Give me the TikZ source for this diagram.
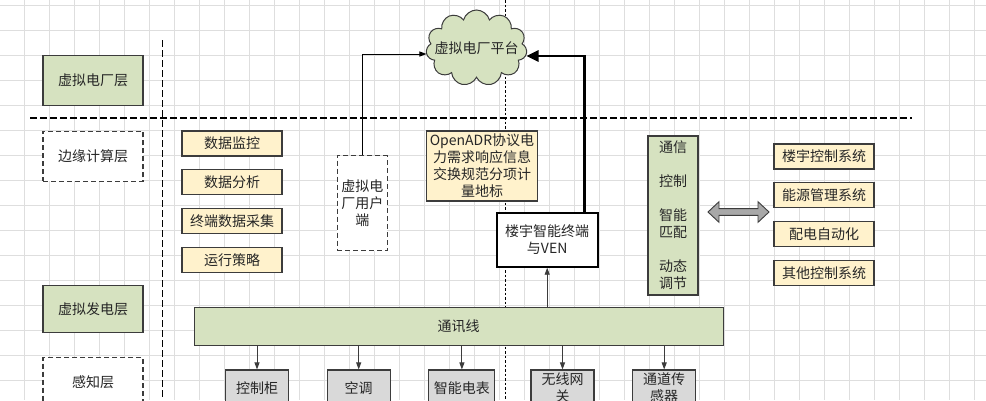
\documentclass[tikz,border=0pt]{standalone}
\usepackage{fontspec}
\usetikzlibrary{positioning,shapes.symbols,arrows.meta}
\newfontfamily\cjk{Noto Sans CJK SC}
\definecolor{layergreen}{RGB}{214,226,192}
\definecolor{notebg}{RGB}{255,242,204}
\definecolor{devgray}{RGB}{217,217,217}
\definecolor{swapgray}{RGB}{168,168,168}
\definecolor{edgegray}{RGB}{60,60,60}
\tikzset{
  txt/.style={font=\cjk\fontsize{14}{17}\selectfont,text=black!85},
  box/.style={txt,draw=edgegray,line width=1.1pt,align=center,inner sep=0pt},
  layer/.style={box,fill=layergreen,minimum width=100pt,minimum height=50pt},
  ghost/.style={box,fill=white,dash pattern=on 5pt off 3pt},
  note/.style={box,fill=notebg,minimum width=100pt,minimum height=25pt},
  device/.style={box,fill=devgray,minimum width=63pt,minimum height=36pt},
  gridline/.style={draw=black!13,line width=0.8pt},
  sep/.style={draw=black,line width=1.1pt,dash pattern=on 6.5pt off 3.5pt},
  link/.style={draw=edgegray,line width=0.9pt,-{Triangle[length=7pt,width=5pt]}},
  bold/.style={draw=black,line width=2.6pt,-{Triangle[length=12pt,width=11pt]}}
}

\begin{document}
\begin{tikzpicture}[x=1pt,y=-1pt]
  \fill[white] (0,0) rectangle (986,400);
  \useasboundingbox (0,0) rectangle (986,400);
  \clip (0,0) rectangle (986,400);
  \foreach \gx in {-1,24,...,974} \draw[gridline] (\gx,0) -- (\gx,400);
  \foreach \gy in {5,30,...,380} \draw[gridline] (0,\gy) -- (986,\gy);
  \draw[sep] (162.7,40) -- (162.7,400);
  \draw[sep] (30,118) -- (912,118);
  \draw[line width=0.7pt,dash pattern=on 2.5pt off 2pt] (505,0) -- (505,400);

  \node[layer] (vpp) at (93,80.7) {虚拟电厂层};
  \node[layer,ghost] (edgel) at (93,156.3) {边缘计算层};
  \node[layer,minimum height=47pt] (vgen) at (93,309.3) {虚拟发电层};
  \node[layer,ghost] (sense) at (93,382.5) {感知层};

  \node[note] (mon) at (232,143.5) {数据监控};
  \node[note] (ana) [below=12.7pt of mon] {数据分析};
  \node[note] (acq) [below=12.7pt of ana] {终端数据采集};
  \node[note] (ops) [below=12.7pt of acq] {运行策略};

  \node[note] (bcs) at (824,156.5) {楼宇控制系统};
  \node[note] (ems) [below=12.8pt of bcs] {能源管理系统};
  \node[note] (das) [below=12.8pt of ems] {配电自动化};
  \node[note] (ocs) [below=12.8pt of das] {其他控制系统};

  \node[cloud,cloud puffs=11,draw=edgegray,fill=layergreen,line width=1pt,
    minimum width=101pt,minimum height=76pt,inner sep=0pt,
    label={[txt]center:虚拟电厂平台}] (cloud) at (476.5,48) {};
  \node[ghost,minimum width=50pt,minimum height=95pt] (user) at (362.3,203.2) {虚拟电\\厂用户\\端};
  \node[note,minimum width=110.6pt,minimum height=70pt] (adr) at (482,166)
    {OpenADR协议电\\力需求响应信息\\交换规范分项计\\量地标};
  \node[box,draw=black,line width=2pt,fill=white,minimum width=101pt,minimum height=53.4pt]
    (ven) at (547.2,240) {楼宇智能终端\\与VEN};
  \node[layer,minimum width=50pt,minimum height=159pt] (ctl) at (673,215.5)
    {通信\\[17pt]控制\\[17pt]智能\\匹配\\[17pt]动态\\调节};
  \node[layer,minimum width=529pt,minimum height=38.4pt] (bus) at (458.7,326.5) {通讯线};

  \node[device] (cab) at (257,388) {控制柜};
  \node[device] (ac) [right=37.6pt of cab] {空调};
  \node[device,minimum width=66pt] (met) [right=37.6pt of ac] {智能电表};
  \node[device] (gw) [right=35pt of met] {无线网\\关};
  \node[device] (sen) [right=37.6pt of gw] {通道传\\感器};

  \foreach \dev in {cab,ac,met,gw,sen}
    \draw[link] (bus.south -| \dev.north) -- (\dev.north);
  \draw[link] (bus.north -| ven.south) -- (ven.south);
  \draw[link,draw=black] (user.north) |- ([yshift=-6pt]cloud.west);
  \draw[bold] ([xshift=37pt]ven.north) |- ([yshift=-8pt]cloud.east);

  \coordinate (swap) at (738.5,212);
  \draw[draw=edgegray,fill=swapgray,line width=0.9pt,shift={(swap)}]
    (-30.5,0) -- (-19.5,-10.3) -- (-19.5,-3.4) -- (19.5,-3.4) -- (19.5,-10.3)
    -- (30.5,0) -- (19.5,10.3) -- (19.5,3.4) -- (-19.5,3.4) -- (-19.5,10.3) -- cycle;
\end{tikzpicture}
\end{document}
